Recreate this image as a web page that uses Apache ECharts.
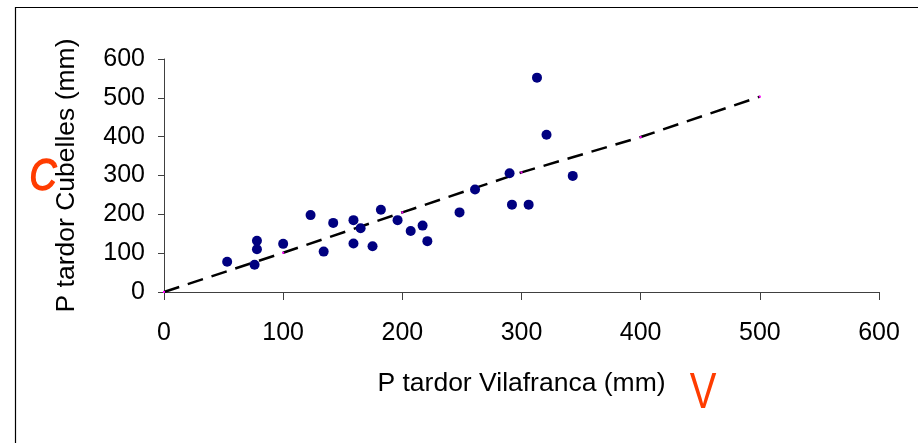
<!DOCTYPE html>
<html>
<head>
<meta charset="utf-8">
<script src="https://cdn.jsdelivr.net/npm/echarts@6/dist/echarts.min.js"></script>
<style>html,body{margin:0;padding:0;background:#fff}#c{width:918px;height:443px}</style>
</head>
<body>
<div id="c"></div>
<script>
// Scatter data: P tardor Vilafranca (x), P tardor Cubelles (y)
const vilafranca = [53, 76, 78, 78, 100, 123, 134, 142, 159, 159, 165, 175, 182, 196, 207, 217, 221, 248, 261, 290, 292, 306, 313, 321, 343];
const cubelles   = [78, 70, 132, 110, 124, 198, 104, 178, 185, 125, 164, 118, 212, 185, 157, 171, 131, 205, 264, 306, 225, 225, 552, 405, 299];
// Reference (dashed) line
const lineX = [0, 100, 200, 300, 400, 500];
const lineY = [0, 101, 205, 308, 399, 503];
// Axis ticks
const xTicks = [0, 100, 200, 300, 400, 500, 600];
const yTicks = [0, 100, 200, 300, 400, 500, 600];

const FONT = "'Liberation Sans', Arial, sans-serif";
const chart = echarts.init(document.getElementById('c'), null, {renderer: 'canvas'});
chart.setOption({
  animation: false,
  backgroundColor: '#fff',
  grid: {left: 164, right: 39, top: 59, bottom: 151, containLabel: false},
  xAxis: {
    type: 'value', min: xTicks[0], max: xTicks[xTicks.length - 1], interval: 100,
    name: 'P tardor Vilafranca (mm)', nameLocation: 'middle', nameGap: 78,
    nameTextStyle: {fontFamily: FONT, fontSize: 26.5, color: '#000'},
    axisLine: {show: true, onZero: false, lineStyle: {color: '#404040', width: 1}},
    axisTick: {show: true, length: 8, lineStyle: {color: '#404040'}},
    axisLabel: {fontFamily: FONT, fontSize: 25, color: '#000', margin: 29},
    splitLine: {show: false}
  },
  yAxis: {
    type: 'value', min: yTicks[0], max: yTicks[yTicks.length - 1], interval: 100,
    name: 'P tardor Cubelles (mm)', nameLocation: 'middle', nameGap: 84,
    nameTextStyle: {fontFamily: FONT, fontSize: 26.5, color: '#000'},
    axisLine: {show: true, lineStyle: {color: '#404040', width: 1}},
    axisTick: {show: true, length: 6, lineStyle: {color: '#404040'}},
    axisLabel: {fontFamily: FONT, fontSize: 25, color: '#000', margin: 19},
    splitLine: {show: false}
  },
  series: [
    {
      type: 'line',
      data: lineX.map((x, i) => [x, lineY[i]]),
      symbol: 'rect', symbolSize: 2, showSymbol: true,
      itemStyle: {color: '#ff00ff'},
      lineStyle: {color: '#000', width: 2.5, type: [16, 9]},
      z: 2
    },
    {
      type: 'scatter',
      data: vilafranca.map((x, i) => [x, cubelles[i]]),
      symbol: 'circle', symbolSize: 10,
      itemStyle: {color: '#000080', opacity: 1},
      z: 3
    }
  ],
  graphic: [
    {type: 'rect', shape: {x: 15.5, y: 7.5, width: 1000, height: 1000},
     style: {fill: 'none', stroke: '#000', lineWidth: 1.2}, silent: true},
    {type: 'text', x: 43, y: 178, scaleX: 0.85,
     style: {text: 'C', font: "italic 44px " + FONT, fill: '#ff3c00', stroke: '#ff3c00', lineWidth: 1.5, align: 'center', verticalAlign: 'middle'}},
    {type: 'text', x: 703, y: 394, scaleX: 0.8,
     style: {text: 'V', font: "50px " + FONT, fill: '#ff3c00', align: 'center', verticalAlign: 'middle'}}
  ]
});
</script>
</body>
</html>
